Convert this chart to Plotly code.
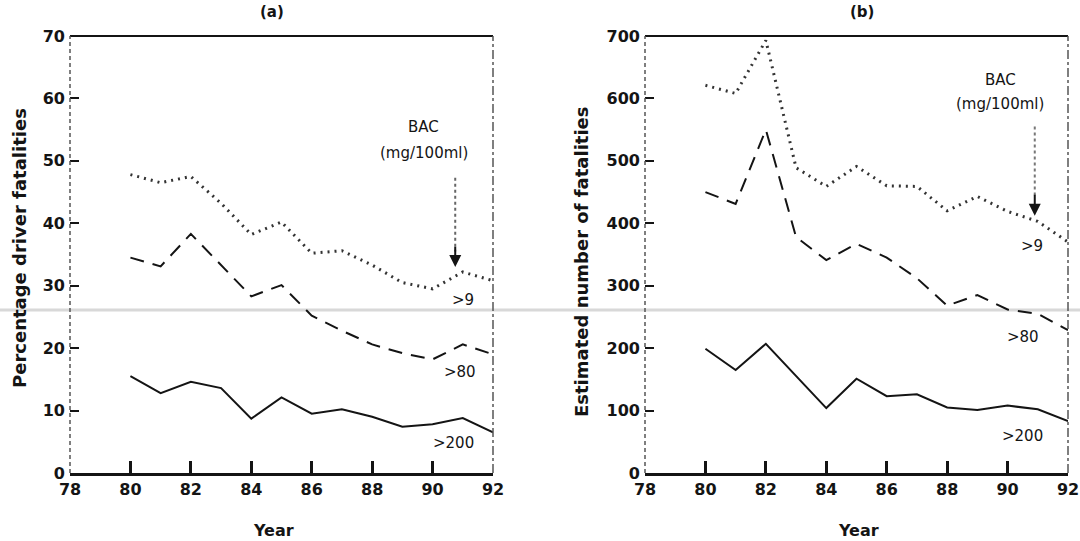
import plotly.graph_objects as go

years = [80, 81, 82, 83, 84, 85, 86, 87, 88, 89, 90, 91, 92]

# Panel (a): percentage of driver fatalities
pct_gt9 = [47.8, 46.5, 47.5, 43.2, 38.2, 40.2, 35.2, 35.6, 33.3, 30.5, 29.5, 32.2, 30.8]
pct_gt80 = [34.5, 33.1, 38.3, 33.3, 28.3, 30.1, 25.2, 22.8, 20.6, 19.2, 18.2, 20.6, 19.0]
pct_gt200 = [15.5, 12.8, 14.6, 13.6, 8.7, 12.1, 9.5, 10.2, 9.0, 7.4, 7.8, 8.8, 6.5]

# Panel (b): estimated number of fatalities
num_gt9 = [621, 608, 693, 489, 459, 491, 460, 459, 420, 443, 419, 403, 370]
num_gt80 = [450, 431, 550, 378, 341, 367, 345, 312, 268, 285, 262, 255, 229]
num_gt200 = [199, 165, 207, 155, 104, 151, 123, 126, 105, 101, 108, 102, 83]

x_ticks = [78, 80, 82, 84, 86, 88, 90, 92]
y_ticks_a = [0, 10, 20, 30, 40, 50, 60, 70]
y_ticks_b = [0, 100, 200, 300, 400, 500, 600, 700]

INK = "#141414"
FONT = "DejaVu Sans"

fig = go.Figure()

def add_series(xa, ya, y9, y80, y200):
    fig.add_trace(go.Scatter(x=years, y=y9, mode="lines", xaxis=xa, yaxis=ya,
                             line=dict(color="#333333", width=3, dash="2px,5px"),
                             showlegend=False, hoverinfo="skip"))
    fig.add_trace(go.Scatter(x=years, y=y80, mode="lines", xaxis=xa, yaxis=ya,
                             line=dict(color=INK, width=2, dash="14px,9px"),
                             showlegend=False, hoverinfo="skip"))
    fig.add_trace(go.Scatter(x=years, y=y200, mode="lines", xaxis=xa, yaxis=ya,
                             line=dict(color=INK, width=2),
                             showlegend=False, hoverinfo="skip"))

add_series("x", "y", pct_gt9, pct_gt80, pct_gt200)
add_series("x2", "y2", num_gt9, num_gt80, num_gt200)

W, H = 1080, 541
ydom = [1 - 473 / H, 1 - 36 / H]
xdom_a = [70 / W, 493 / W]
xdom_b = [645 / W, 1068 / W]

axis_font = dict(family=FONT, size=16, color=INK, weight="bold")

def xaxis(dom, anchor):
    return dict(domain=dom, anchor=anchor, range=[78, 92], tickvals=x_ticks,
                ticktext=[str(v) for v in x_ticks], ticks="inside", ticklen=12,
                tickwidth=2.5, tickcolor=INK, showline=True, linecolor=INK,
                linewidth=2.5, showgrid=False, zeroline=False, tickfont=axis_font,
                fixedrange=True, automargin=False)

def yaxis(rng, vals, anchor):
    return dict(domain=ydom, anchor=anchor, range=rng, tickvals=vals,
                ticks="inside", ticklen=9, tickwidth=2, tickcolor=INK,
                showline=False, showgrid=False, zeroline=False, tickfont=axis_font,
                fixedrange=True, automargin=False, ticklabelstandoff=4)

fig.update_layout(
    template="none",
    width=W, height=H,
    margin=dict(l=0, r=0, t=0, b=0, autoexpand=False),
    paper_bgcolor="white", plot_bgcolor="white",
    xaxis=xaxis(xdom_a, "y"),
    yaxis=yaxis([0, 70], y_ticks_a, "x"),
    xaxis2=xaxis(xdom_b, "y2"),
    yaxis2=yaxis([0, 700], y_ticks_b, "x2"),
)

shapes = []
for dom in (xdom_a, xdom_b):
    # top border (solid)
    shapes.append(dict(type="line", xref="paper", yref="paper", x0=dom[0], x1=dom[1],
                       y0=ydom[1], y1=ydom[1], line=dict(color=INK, width=2)))
    # left axis line (thin dashed)
    shapes.append(dict(type="line", xref="paper", yref="paper", x0=dom[0], x1=dom[0],
                       y0=ydom[0], y1=ydom[1], line=dict(color="#555555", width=1.5, dash="4px,3px")))
    # right border (dashed)
    shapes.append(dict(type="line", xref="paper", yref="paper", x0=dom[1], x1=dom[1],
                       y0=ydom[0], y1=ydom[1], line=dict(color="#555555", width=1.5, dash="dashdot")))
# BAC arrows shafts (dotted)
shapes.append(dict(type="line", xref="x", yref="y", x0=90.75, x1=90.75, y0=47.3, y1=35.5,
                   line=dict(color="#666666", width=2, dash="dot")))
shapes.append(dict(type="line", xref="x2", yref="y2", x0=90.9, x1=90.9, y0=555, y1=445,
                   line=dict(color="#777777", width=2, dash="dot")))
# scan artifact horizontal line
shapes.append(dict(type="line", xref="paper", yref="paper", x0=0, x1=1,
                   y0=1 - 310 / H, y1=1 - 310 / H, line=dict(color="#d8d8d8", width=3),
                   layer="below"))
fig.update_layout(shapes=shapes)

ann = []
def add_text(text, x, y, xref, yref, size=14, bold=False, **kw):
    f = dict(family=FONT, size=size, color=INK)
    if bold:
        f["weight"] = "bold"
    ann.append(dict(text=text, x=x, y=y, xref=xref, yref=yref, showarrow=False,
                    xanchor="center", yanchor="middle", font=f, **kw))

# panel titles
add_text("(a)", 272 / W, 1 - 12 / H, "paper", "paper", size=15, bold=True)
add_text("(b)", 862 / W, 1 - 12 / H, "paper", "paper", size=15, bold=True)
# x titles
add_text("Year", 273 / W, 1 - 530 / H, "paper", "paper", size=16, bold=True)
add_text("Year", 858 / W, 1 - 530 / H, "paper", "paper", size=16, bold=True)
# y titles
add_text("Percentage driver fatalities", 19 / W, 1 - 248 / H, "paper", "paper", size=18, bold=True,
         textangle=-90)
add_text("Estimated number of fatalities", 581 / W, 1 - 262 / H, "paper", "paper", size=18, bold=True,
         textangle=-90)

# panel (a) labels
add_text("BAC", 89.7, 55.5, "x", "y", size=15)
add_text("(mg/100ml)", 89.7, 51.2, "x", "y", size=15)
add_text(">9", 91.0, 27.7, "x", "y", size=15)
add_text(">80", 90.9, 16.1, "x", "y", size=15)
add_text(">200", 90.7, 4.8, "x", "y", size=15)
# panel (b) labels
add_text("BAC", 89.75, 630, "x2", "y2", size=15)
add_text("(mg/100ml)", 89.75, 591, "x2", "y2", size=15)
add_text(">9", 90.8, 364, "x2", "y2", size=15)
add_text(">80", 90.5, 218, "x2", "y2", size=15)
add_text(">200", 90.5, 60, "x2", "y2", size=15)

# arrow heads
ann.append(dict(x=90.75, y=33.0, xref="x", yref="y", ax=90.75, ay=36.5, axref="x", ayref="y",
                showarrow=True, arrowhead=2, arrowsize=1.2, arrowwidth=2, arrowcolor=INK, text=""))
ann.append(dict(x=90.9, y=412, xref="x2", yref="y2", ax=90.9, ay=448, axref="x2", ayref="y2",
                showarrow=True, arrowhead=2, arrowsize=1.2, arrowwidth=2, arrowcolor=INK, text=""))

fig.update_layout(annotations=ann)

fig.write_html("out.html", config={"displayModeBar": False},
               post_script="document.body.style.margin='0';document.body.style.overflow='hidden';")
